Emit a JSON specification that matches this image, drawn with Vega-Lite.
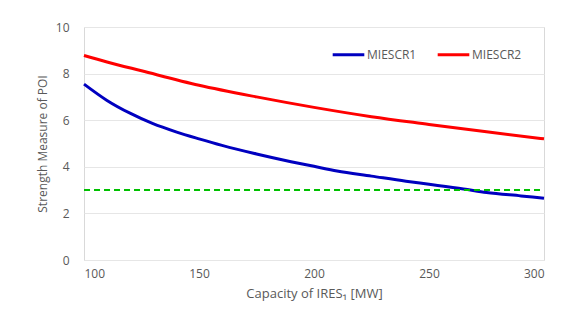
{
  "$schema": "https://vega.github.io/schema/vega-lite/v6.json",
  "width": 460,
  "height": 233,
  "autosize": "none",
  "padding": {"left": 84, "top": 27, "right": 40, "bottom": 68},
  "background": "white",
  "config": {
    "font": "Open Sans",
    "view": {"stroke": "#d9d9d9", "strokeWidth": 1},
    "axis": {"labelColor": "#595959", "titleColor": "#595959", "labelFontSize": 12, "titleFontSize": 12, "titleFontWeight": "normal", "domain": false, "ticks": false, "gridColor": "#e6e6e6"}
  },
  "datasets": {
    "curves": [
      {"x": 100, "y": 7.55, "s": "MIESCR1"},
      {"x": 110, "y": 6.85, "s": "MIESCR1"},
      {"x": 120, "y": 6.3, "s": "MIESCR1"},
      {"x": 130, "y": 5.85, "s": "MIESCR1"},
      {"x": 140, "y": 5.5, "s": "MIESCR1"},
      {"x": 150, "y": 5.2, "s": "MIESCR1"},
      {"x": 160, "y": 4.92, "s": "MIESCR1"},
      {"x": 175, "y": 4.55, "s": "MIESCR1"},
      {"x": 190, "y": 4.22, "s": "MIESCR1"},
      {"x": 200, "y": 4.02, "s": "MIESCR1"},
      {"x": 210, "y": 3.82, "s": "MIESCR1"},
      {"x": 225, "y": 3.6, "s": "MIESCR1"},
      {"x": 240, "y": 3.38, "s": "MIESCR1"},
      {"x": 250, "y": 3.25, "s": "MIESCR1"},
      {"x": 265, "y": 3.05, "s": "MIESCR1"},
      {"x": 275, "y": 2.9, "s": "MIESCR1"},
      {"x": 290, "y": 2.75, "s": "MIESCR1"},
      {"x": 300, "y": 2.65, "s": "MIESCR1"},
      {"x": 100, "y": 8.78, "s": "MIESCR2"},
      {"x": 110, "y": 8.5, "s": "MIESCR2"},
      {"x": 125, "y": 8.12, "s": "MIESCR2"},
      {"x": 150, "y": 7.5, "s": "MIESCR2"},
      {"x": 175, "y": 7.0, "s": "MIESCR2"},
      {"x": 200, "y": 6.55, "s": "MIESCR2"},
      {"x": 225, "y": 6.15, "s": "MIESCR2"},
      {"x": 250, "y": 5.82, "s": "MIESCR2"},
      {"x": 275, "y": 5.5, "s": "MIESCR2"},
      {"x": 300, "y": 5.2, "s": "MIESCR2"}
    ],
    "threshold": [
      {"x": 100, "y": 3},
      {"x": 300, "y": 3}
    ]
  },
  "layer": [
    {
      "data": {"name": "curves"},
      "mark": {"type": "line", "strokeWidth": 3, "interpolate": "monotone"},
      "encoding": {
        "x": {"field": "x", "type": "quantitative", "scale": {"domain": [100, 300], "nice": false}, "axis": {"values": [100, 150, 200, 250, 300], "grid": false, "title": "Capacity of IRES₁  [MW]", "titleFontSize": 13, "labelPadding": 8, "titlePadding": 8}},
        "y": {"field": "y", "type": "quantitative", "scale": {"domain": [0, 10], "nice": false}, "axis": {"values": [0, 2, 4, 6, 8, 10], "title": "Strength Measure of POI", "labelPadding": 15, "titlePadding": 6}},
        "color": {"field": "s", "type": "nominal", "scale": {"domain": ["MIESCR1", "MIESCR2"], "range": ["#0000c0", "#ff0000"]},
          "legend": {"title": null, "orient": "none", "legendX": 247, "legendY": 10, "direction": "horizontal", "symbolType": "stroke", "symbolStrokeWidth": 3, "symbolSize": 1000, "labelFontSize": 12, "labelColor": "#595959", "columnPadding": 14, "labelOffset": 1}}
      }
    },
    {
      "data": {"name": "threshold"},
      "mark": {"type": "line", "color": "#00c000", "strokeWidth": 2, "strokeDash": [6, 4]},
      "encoding": {
        "x": {"field": "x", "type": "quantitative"},
        "y": {"field": "y", "type": "quantitative"}
      }
    }
  ]
}
